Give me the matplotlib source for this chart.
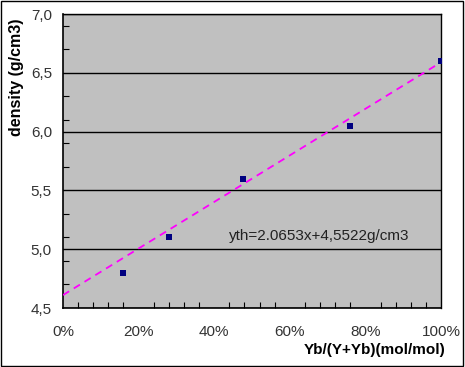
import matplotlib
matplotlib.use("Agg")
import matplotlib.pyplot as plt
from matplotlib.patches import Rectangle
from matplotlib.ticker import FuncFormatter, MultipleLocator, FixedLocator

# data
yb_fraction = [0.158, 0.280, 0.476, 0.759, 1.000]
density = [4.80, 5.10, 5.60, 6.05, 6.60]
trend_x = [0.0, 0.985]
trend_y = [4.61, 6.56]
equation_label = "yth=2.0653x+4,5522g/cm3"
x_label = "Yb/(Y+Yb)(mol/mol)"
y_label = "density (g/cm3)"

plt.rcParams['font.family'] = ['Liberation Sans', 'DejaVu Sans']

W, H = 465, 367
fig = plt.figure(figsize=(W / 100, H / 100), dpi=100)
fig.patch.set_facecolor('white')

left, right, top, bottom = 63, 441, 14, 308
ax = fig.add_axes([left / W, 1 - bottom / H, (right - left) / W, (bottom - top) / H])
ax.set_facecolor('#c0c0c0')

ax.set_xlim(0, 1)
ax.set_ylim(4.5, 7.0)

ax.plot(trend_x, trend_y, color='#ff00ff', linestyle=(0, (4, 3)), linewidth=1.3, zorder=3)
ax.scatter(yb_fraction, density, marker='s', s=22, color='#000080', zorder=4, linewidths=0)

ax.set_yticks([4.5, 5.0, 5.5, 6.0, 6.5, 7.0])
ax.yaxis.set_minor_locator(FixedLocator([4.5 + 0.2 * k for k in range(13)]))
ax.set_xticks([0, 0.2, 0.4, 0.6, 0.8, 1.0])
ax.xaxis.set_minor_locator(MultipleLocator(0.04))
ax.yaxis.set_major_formatter(FuncFormatter(lambda v, p: f"{v:.1f}".replace('.', ',')))
ax.xaxis.set_major_formatter(FuncFormatter(lambda v, p: f"{v * 100:.0f}%"))

ax.grid(axis='y', which='major', color='black', linewidth=1.0)
ax.set_axisbelow(True)

ax.tick_params(axis='both', which='major', length=0, labelsize=11, colors='#333333', pad=8)
ax.tick_params(axis='x', which='major', pad=12)
ax.tick_params(axis='both', which='minor', length=4, direction='in', width=0.8, color='black')
for lab in ax.get_xticklabels() + ax.get_yticklabels():
    lab.set_color('#333333')

for s in ['top', 'right']:
    ax.spines[s].set_linewidth(1.0)
for s in ['left', 'bottom']:
    ax.spines[s].set_linewidth(1.2)

# axis titles placed in figure pixel positions
fig.text(375 / W, 1 - 350 / H, x_label, fontsize=11, fontweight='bold',
         ha='center', va='center')
fig.text(16 / W, 1 - 77 / H, y_label, fontsize=11.5, fontweight='bold',
         ha='center', va='center', rotation=90)

ax.text(0.44, 5.11, equation_label, fontsize=11, color='#222222', va='center', ha='left')

fig.add_artist(Rectangle((0.5 / W, 1 - 366 / H), 462.5 / W, 365.5 / H,
                         transform=fig.transFigure, fill=False, edgecolor='black', linewidth=1.0))

fig.savefig('out.png', dpi=100)
